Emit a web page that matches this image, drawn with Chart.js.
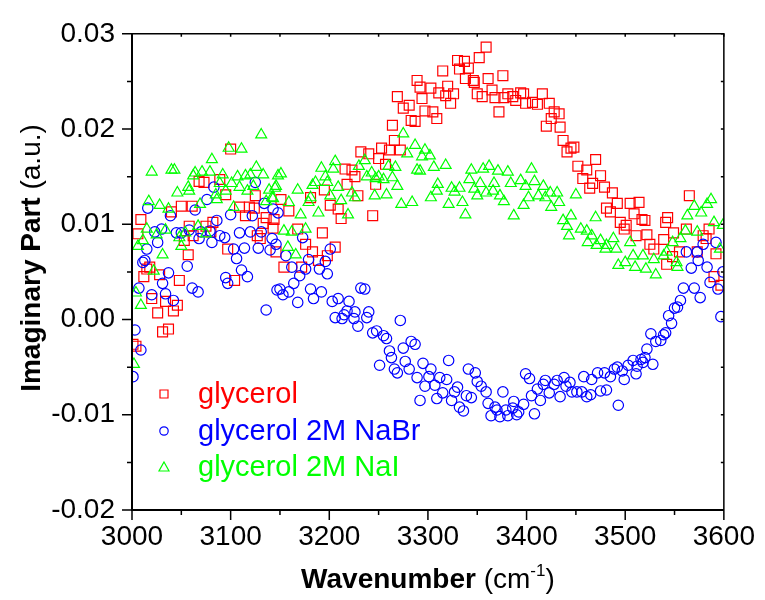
<!DOCTYPE html>
<html lang="en">
  <head>
    <meta charset="UTF-8" />
    <script src="https://cdn.jsdelivr.net/npm/chart.js"></script>
    <style>
      body {
        margin: 0;
        background: #ffffff;
      }
      #wrap {
        width: 765px;
        height: 600px;
      }
    </style>
  </head>
  <body>
    <div id="wrap">
      <canvas id="imagChart" width="765" height="600"></canvas>
    </div>

    <script>
      // glycerol (red squares)
      const glycerolWn = [
        3001, 3004, 3006, 3009, 3012, 3015, 3018, 3020, 3026, 3028, 3031, 3034, 3037, 3040, 3042,
        3046, 3048, 3050, 3053, 3057, 3058, 3061, 3062, 3068, 3073, 3075, 3080, 3082, 3089, 3095,
        3097, 3100, 3104, 3109, 3115, 3119, 3124, 3125, 3127, 3130, 3133, 3136, 3143, 3144, 3146,
        3151, 3154, 3159, 3168, 3172, 3176, 3181, 3183, 3189, 3193, 3195, 3198, 3201, 3206, 3209,
        3212, 3216, 3218, 3223, 3226, 3229, 3232, 3240, 3244, 3247, 3250, 3253, 3257, 3261, 3264,
        3266, 3269, 3272, 3275, 3281, 3283, 3287, 3289, 3292, 3294, 3297, 3303, 3305, 3309, 3311,
        3315, 3318, 3320, 3323, 3326, 3330, 3332, 3337, 3338, 3341, 3346, 3347, 3350, 3352, 3355,
        3359, 3361, 3365, 3368, 3372, 3376, 3377, 3381, 3386, 3389, 3394, 3397, 3399, 3406, 3411,
        3416, 3420, 3423, 3425, 3428, 3433, 3434, 3437, 3441, 3445, 3448, 3452, 3457, 3461, 3464,
        3467, 3470, 3475, 3479, 3481, 3485, 3487, 3492, 3495, 3499, 3501, 3505, 3509, 3511, 3514,
        3517, 3520, 3522, 3525, 3529, 3539, 3541, 3542, 3543, 3548, 3549, 3555, 3562, 3565, 3573,
        3579, 3582, 3585, 3590, 3592, 3597
      ];
      const glycerolIm = [
        -0.0026, -0.0028, 0.0090, 0.0105, 0.0045, 0.0053, 0.0055, 0.0022, 0.0007, 0.0047, -0.0013, 0.0019, -0.0010, 0.0113, 0.0009,
        0.0015, 0.0041, 0.0119, 0.0083, 0.0068, 0.0098, 0.0119, 0.0088, 0.0145, 0.0144, 0.0098, 0.0092, 0.0102, 0.0147, 0.0131,
        0.0074, 0.0179, 0.0041, 0.0118, 0.0109, 0.0118, 0.0117, 0.0130, 0.0088, 0.0085, 0.0101, 0.0107, 0.0096, 0.0105, 0.0071,
        0.0126, 0.0055, 0.0114, 0.0095, 0.0055, 0.0079, 0.0128, 0.0071, 0.0062, 0.0091, 0.0136, 0.0067, 0.0120, 0.0076, 0.0116,
        0.0106, 0.0158, 0.0142, 0.0157, 0.0150, 0.0130, 0.0176, 0.0174, 0.0109, 0.0142, 0.0169, 0.0180, 0.0163, 0.0178, 0.0204,
        0.0188, 0.0234, 0.0178, 0.0222, 0.0225, 0.0209, 0.0208, 0.0251, 0.0244, 0.0232, 0.0219, 0.0243, 0.0218, 0.0211, 0.0238,
        0.0261, 0.0235, 0.0245, 0.0227, 0.0237, 0.0272, 0.0263, 0.0271, 0.0253, 0.0264, 0.0251, 0.0249, 0.0237, 0.0275, 0.0234,
        0.0286, 0.0253, 0.0241, 0.0233, 0.0218, 0.0256, 0.0233, 0.0237, 0.0234, 0.0230, 0.0238, 0.0237, 0.0227, 0.0228, 0.0226,
        0.0237, 0.0203, 0.0227, 0.0211, 0.0218, 0.0216, 0.0202, 0.0188, 0.0176, 0.0180, 0.0181, 0.0161, 0.0148, 0.0157, 0.0138,
        0.0143, 0.0168, 0.0151, 0.0139, 0.0117, 0.0113, 0.0133, 0.0122, 0.0102, 0.0095, 0.0099, 0.0122, 0.0111, 0.0088, 0.0123,
        0.0105, 0.0104, 0.0089, 0.0079, 0.0074, 0.0084, 0.0102, 0.0058, 0.0107, 0.0066, 0.0091, 0.0071, 0.0095, 0.0130, 0.0071,
        0.0088, 0.0085, 0.0095, 0.0045, 0.0069, 0.0036
      ];

      // glycerol 2M NaBr (blue circles)
      const nabrWn = [
        3001, 3003, 3007, 3009, 3011, 3013, 3015, 3016, 3020, 3023, 3026, 3030, 3031, 3034, 3037,
        3039, 3042, 3045, 3050, 3056, 3058, 3061, 3064, 3067, 3068, 3070, 3076, 3079, 3081, 3083,
        3086, 3089, 3094, 3095, 3097, 3100, 3103, 3106, 3109, 3111, 3114, 3117, 3120, 3122, 3125,
        3128, 3131, 3134, 3136, 3140, 3142, 3143, 3146, 3147, 3148, 3150, 3153, 3156, 3159, 3162,
        3164, 3168, 3170, 3173, 3176, 3179, 3181, 3184, 3190, 3192, 3196, 3198, 3201, 3203, 3206,
        3209, 3213, 3215, 3218, 3220, 3225, 3226, 3229, 3232, 3236, 3238, 3240, 3244, 3248, 3251,
        3255, 3258, 3261, 3263, 3266, 3269, 3272, 3275, 3277, 3281, 3283, 3287, 3289, 3292, 3295,
        3297, 3301, 3303, 3307, 3309, 3312, 3315, 3319, 3321, 3324, 3327, 3330, 3332, 3336, 3339,
        3341, 3344, 3348, 3350, 3354, 3359, 3361, 3364, 3368, 3370, 3373, 3376, 3379, 3381, 3386,
        3387, 3390, 3392, 3397, 3399, 3403, 3405, 3408, 3411, 3414, 3417, 3419, 3423, 3428, 3431,
        3434, 3438, 3440, 3444, 3446, 3451, 3456, 3458, 3461, 3465, 3466, 3472, 3475, 3479, 3481,
        3485, 3489, 3492, 3493, 3497, 3499, 3503, 3508, 3511, 3512, 3516, 3518, 3520, 3522, 3526,
        3528, 3531, 3536, 3539, 3541, 3544, 3547, 3550, 3553, 3556, 3559, 3562, 3567, 3570, 3573,
        3574, 3576, 3579, 3583, 3586, 3592, 3594, 3597, 3599
      ];
      const nabrIm = [
        -0.0060, -0.0011, 0.0033, -0.0032, 0.0060, 0.0062, 0.0074, 0.0117, 0.0026, 0.0092, 0.0081, 0.0095, 0.0038, 0.0027, 0.0049,
        0.0109, 0.0020, 0.0091, 0.0091, 0.0056, 0.0094, 0.0033, 0.0115, 0.0029, 0.0085, 0.0092, 0.0126, 0.0093, 0.0081, 0.0139,
        0.0104, 0.0088, 0.0086, 0.0044, 0.0038, 0.0110, 0.0074, 0.0064, 0.0091, 0.0052, 0.0075, 0.0045, 0.0092, 0.0109, 0.0144,
        0.0075, 0.0092, 0.0122, 0.0010, 0.0073, 0.0085, 0.0116, 0.0079, 0.0031, 0.0112, 0.0032, 0.0026, 0.0067, 0.0029, 0.0055,
        0.0038, 0.0018, 0.0046, 0.0086, 0.0053, 0.0063, 0.0032, 0.0022, 0.0053, 0.0029, 0.0061, 0.0048, 0.0074, 0.0019, 0.0002,
        0.0022, 0.0001, 0.0005, 0.0009, 0.0019, 0.0001, 0.0008, -0.0007, 0.0033, 0.0032, 0.0002, 0.0008, -0.0014, -0.0012, -0.0048,
        -0.0017, -0.0020, -0.0033, -0.0040, -0.0052, -0.0056, -0.0001, -0.0030, -0.0044, -0.0052, -0.0023, -0.0026, -0.0061, -0.0085, -0.0046,
        -0.0070, -0.0060, -0.0052, -0.0069, -0.0083, -0.0061, -0.0077, -0.0063, -0.0043, -0.0085, -0.0076, -0.0071, -0.0092, -0.0096, -0.0080,
        -0.0052, -0.0082, -0.0056, -0.0065, -0.0070, -0.0076, -0.0088, -0.0101, -0.0092, -0.0095, -0.0102, -0.0076, -0.0095, -0.0101, -0.0093,
        -0.0086, -0.0100, -0.0097, -0.0089, -0.0057, -0.0062, -0.0080, -0.0099, -0.0073, -0.0085, -0.0068, -0.0064, -0.0077, -0.0068, -0.0064,
        -0.0081, -0.0061, -0.0070, -0.0066, -0.0076, -0.0076, -0.0076, -0.0060, -0.0081, -0.0079, -0.0063, -0.0056, -0.0075, -0.0056, -0.0074,
        -0.0060, -0.0052, -0.0050, -0.0090, -0.0054, -0.0063, -0.0048, -0.0043, -0.0057, -0.0049, -0.0042, -0.0045, -0.0040, -0.0031, -0.0015,
        -0.0047, -0.0023, -0.0022, -0.0016, -0.0014, 0.0004, -0.0004, 0.0012, 0.0013, 0.0020, 0.0033, 0.0071, 0.0054, 0.0033, 0.0071,
        0.0062, 0.0023, 0.0079, 0.0055, 0.0039, 0.0081, 0.0032, 0.0003, 0.0050
      ];

      // glycerol 2M NaI (green triangles)
      const naiWn = [
        3002, 3004, 3006, 3009, 3011, 3015, 3017, 3020, 3022, 3025, 3028, 3031, 3034, 3037, 3040,
        3043, 3046, 3048, 3050, 3054, 3057, 3058, 3062, 3064, 3067, 3069, 3071, 3075, 3079, 3081,
        3085, 3086, 3089, 3092, 3095, 3098, 3101, 3103, 3107, 3109, 3111, 3115, 3117, 3120, 3123,
        3126, 3131, 3133, 3136, 3139, 3142, 3143, 3145, 3146, 3148, 3151, 3154, 3158, 3159, 3162,
        3166, 3168, 3171, 3176, 3179, 3181, 3183, 3186, 3189, 3192, 3196, 3198, 3201, 3204, 3206,
        3209, 3212, 3219, 3223, 3226, 3230, 3236, 3238, 3243, 3246, 3247, 3250, 3255, 3258, 3260,
        3264, 3267, 3269, 3273, 3275, 3279, 3284, 3287, 3289, 3292, 3294, 3297, 3302, 3303, 3306,
        3309, 3310, 3318, 3321, 3324, 3327, 3332, 3335, 3338, 3342, 3344, 3347, 3350, 3353, 3356,
        3359, 3362, 3366, 3367, 3371, 3373, 3377, 3381, 3384, 3387, 3394, 3397, 3399, 3402, 3405,
        3408, 3412, 3417, 3419, 3424, 3425, 3431, 3433, 3437, 3441, 3443, 3445, 3450, 3455, 3461,
        3462, 3466, 3470, 3471, 3475, 3480, 3481, 3488, 3491, 3493, 3500, 3505, 3508, 3510, 3518,
        3521, 3529, 3531, 3539, 3542, 3548, 3552, 3553, 3556, 3561, 3563, 3570, 3573, 3577, 3583,
        3587, 3590, 3596, 3599
      ];
      const naiIm = [
        -0.0047, 0.0028, 0.0077, 0.0015, 0.0083, 0.0095, 0.0124, 0.0155, 0.0051, 0.0089, 0.0120, 0.0068, 0.0094, 0.0116, 0.0157,
        0.0157, 0.0133, 0.0086, 0.0077, 0.0091, 0.0139, 0.0135, 0.0151, 0.0154, 0.0098, 0.0121, 0.0155, 0.0090, 0.0155, 0.0168,
        0.0131, 0.0126, 0.0143, 0.0152, 0.0135, 0.0180, 0.0143, 0.0118, 0.0150, 0.0139, 0.0179, 0.0151, 0.0135, 0.0152, 0.0140,
        0.0160, 0.0194, 0.0152, 0.0124, 0.0136, 0.0128, 0.0127, 0.0138, 0.0140, 0.0151, 0.0153, 0.0093, 0.0076, 0.0123, 0.0092,
        0.0068, 0.0136, 0.0110, 0.0095, 0.0123, 0.0128, 0.0141, 0.0144, 0.0112, 0.0159, 0.0150, 0.0144, 0.0130, 0.0158, 0.0166,
        0.0139, 0.0125, 0.0110, 0.0133, 0.0128, 0.0161, 0.0167, 0.0150, 0.0154, 0.0130, 0.0148, 0.0150, 0.0147, 0.0131, 0.0161,
        0.0149, 0.0160, 0.0140, 0.0121, 0.0195, 0.0174, 0.0123, 0.0183, 0.0157, 0.0156, 0.0171, 0.0178, 0.0172, 0.0128, 0.0160,
        0.0135, 0.0142, 0.0162, 0.0121, 0.0138, 0.0134, 0.0138, 0.0123, 0.0110, 0.0147, 0.0157, 0.0137, 0.0130, 0.0143, 0.0158,
        0.0133, 0.0161, 0.0135, 0.0143, 0.0156, 0.0130, 0.0124, 0.0155, 0.0143, 0.0109, 0.0146, 0.0120, 0.0140, 0.0128, 0.0158,
        0.0145, 0.0130, 0.0140, 0.0128, 0.0133, 0.0118, 0.0133, 0.0123, 0.0104, 0.0098, 0.0088, 0.0109, 0.0131, 0.0095, 0.0093,
        0.0081, 0.0088, 0.0107, 0.0078, 0.0083, 0.0074, 0.0078, 0.0085, 0.0074, 0.0057, 0.0060, 0.0081, 0.0067, 0.0055, 0.0067,
        0.0053, 0.0063, 0.0047, 0.0067, 0.0071, 0.0081, 0.0060, 0.0055, 0.0085, 0.0093, 0.0109, 0.0119, 0.0092, 0.0112, 0.0121,
        0.0126, 0.0102, 0.0074, 0.0099
      ];

      const seriesNames = ["glycerol", "glycerol 2M NaBr", "glycerol 2M NaI"];
      const seriesColors = ["#ff0000", "#0000ff", "#00ff00"];
      const xTicks = [3000, 3100, 3200, 3300, 3400, 3500, 3600];
      const yTicks = [-0.02, -0.01, 0.0, 0.01, 0.02, 0.03];

      function toPoints(xs, ys) {
        return xs.map((x, i) => ({ x: x, y: ys[i] }));
      }

      // box, tick marks, axis titles and the legend
      const frame = {
        id: "frame",
        afterDraw(chart) {
          const ctx = chart.ctx;
          const a = chart.chartArea;
          const xs = chart.scales.x;
          const ys = chart.scales.y;
          ctx.save();
          ctx.strokeStyle = "#000";

          ctx.lineWidth = 1.5;
          ctx.beginPath();
          ctx.moveTo(a.left, a.top);
          ctx.lineTo(a.right, a.top);
          ctx.lineTo(a.right, a.bottom);
          ctx.stroke();
          ctx.lineWidth = 2;
          ctx.beginPath();
          ctx.moveTo(a.left, a.top);
          ctx.lineTo(a.left, a.bottom);
          ctx.lineTo(a.right, a.bottom);
          ctx.stroke();

          ctx.lineWidth = 1.5;
          for (let v = 3000; v <= 3600; v += 50) {
            const px = xs.getPixelForValue(v);
            const major = v % 100 === 0;
            ctx.beginPath();
            ctx.moveTo(px, a.bottom);
            ctx.lineTo(px, a.bottom + (major ? 10 : 5));
            ctx.moveTo(px, a.top);
            ctx.lineTo(px, a.top + 3);
            ctx.stroke();
          }
          for (let k = -4; k <= 6; k++) {
            const v = k * 0.005;
            const py = ys.getPixelForValue(v);
            const major = k % 2 === 0;
            ctx.beginPath();
            ctx.moveTo(a.left, py);
            ctx.lineTo(a.left - (major ? 10 : 5), py);
            ctx.moveTo(a.right, py);
            ctx.lineTo(a.right - 3, py);
            ctx.stroke();
          }

          // x title
          ctx.fillStyle = "#000";
          ctx.textBaseline = "alphabetic";
          const boldF = "bold 28px 'Liberation Sans', Arial, sans-serif";
          const normF = "28px 'Liberation Sans', Arial, sans-serif";
          const supF = "17px 'Liberation Sans', Arial, sans-serif";
          ctx.font = boldF;
          const w1 = ctx.measureText("Wavenumber").width;
          ctx.font = normF;
          const w2 = ctx.measureText(" (cm").width;
          ctx.font = supF;
          const w3 = ctx.measureText("-1").width;
          ctx.font = normF;
          const w4 = ctx.measureText(")").width;
          let tx = (a.left + a.right) / 2 - (w1 + w2 + w3 + w4) / 2;
          const ty = 588;
          ctx.font = boldF;
          ctx.fillText("Wavenumber", tx, ty);
          tx += w1;
          ctx.font = normF;
          ctx.fillText(" (cm", tx, ty);
          tx += w2;
          ctx.font = supF;
          ctx.fillText("-1", tx, ty - 12);
          tx += w3;
          ctx.font = normF;
          ctx.fillText(")", tx, ty);

          // y title
          ctx.save();
          ctx.translate(40, 258);
          ctx.rotate(-Math.PI / 2);
          ctx.font = boldF;
          const u1 = ctx.measureText("Imaginary Part").width;
          ctx.font = normF;
          const u2 = ctx.measureText(" (a.u.)").width;
          let ux = -(u1 + u2) / 2;
          ctx.font = boldF;
          ctx.fillText("Imaginary Part", ux, 0);
          ux += u1;
          ctx.font = normF;
          ctx.fillText(" (a.u.)", ux, 0);
          ctx.restore();

          // legend
          const rows = [394, 431, 467];
          ctx.lineWidth = 1.2;
          ctx.font = "29px 'Liberation Sans', Arial, sans-serif";
          ctx.textBaseline = "middle";
          rows.forEach((ry, i) => {
            const mx = 164;
            ctx.strokeStyle = seriesColors[i];
            ctx.fillStyle = seriesColors[i];
            ctx.beginPath();
            if (i === 0) {
              ctx.rect(mx - 4, ry - 4, 8, 8);
            } else if (i === 1) {
              ctx.arc(mx, ry, 4.2, 0, Math.PI * 2);
            } else {
              ctx.moveTo(mx, ry - 5);
              ctx.lineTo(mx + 5, ry + 4);
              ctx.lineTo(mx - 5, ry + 4);
              ctx.closePath();
            }
            ctx.stroke();
            ctx.fillText(seriesNames[i], 198, ry + 1);
          });
          ctx.restore();
        },
      };

      const ctx = document.getElementById("imagChart").getContext("2d");
      const imagChart = new Chart(ctx, {
        type: "scatter",
        data: {
          datasets: [
            {
              label: seriesNames[0],
              data: toPoints(glycerolWn, glycerolIm),
              pointStyle: "rect",
              pointRadius: 7,
              borderColor: seriesColors[0],
              backgroundColor: "rgba(0,0,0,0)",
              borderWidth: 1.2,
              order: 3,
            },
            {
              label: seriesNames[1],
              data: toPoints(nabrWn, nabrIm),
              pointStyle: "circle",
              pointRadius: 5.2,
              borderColor: seriesColors[1],
              backgroundColor: "rgba(0,0,0,0)",
              borderWidth: 1.2,
              order: 2,
            },
            {
              label: seriesNames[2],
              data: toPoints(naiWn, naiIm),
              pointStyle: "triangle",
              pointRadius: 6.3,
              borderColor: seriesColors[2],
              backgroundColor: "rgba(0,0,0,0)",
              borderWidth: 1.2,
              order: 1,
            },
          ],
        },
        options: {
          responsive: false,
          animation: false,
          devicePixelRatio: 1,
          layout: { padding: { top: 29, right: 37, left: 0, bottom: 0 } },
          plugins: {
            legend: { display: false },
            tooltip: { enabled: false },
          },
          scales: {
            x: {
              type: "linear",
              min: 3000,
              max: 3600,
              afterFit: (s) => {
                s.height = 90;
              },
              afterBuildTicks: (s) => {
                s.ticks = xTicks.map((v) => ({ value: v }));
              },
              grid: { display: false, drawTicks: false },
              border: { display: false },
              ticks: {
                padding: 10,
                color: "#000",
                font: { family: "'Liberation Sans', Arial, sans-serif", size: 28 },
                callback: (v) => String(v),
              },
            },
            y: {
              type: "linear",
              min: -0.02,
              max: 0.03,
              afterFit: (s) => {
                s.width = 132;
              },
              afterBuildTicks: (s) => {
                s.ticks = yTicks.map((v) => ({ value: v }));
              },
              grid: { display: false, drawTicks: false },
              border: { display: false },
              ticks: {
                padding: 17,
                color: "#000",
                font: { family: "'Liberation Sans', Arial, sans-serif", size: 28 },
                callback: (v) => (Math.abs(v) < 1e-9 ? "0.00" : v.toFixed(2)),
              },
            },
          },
        },
        plugins: [frame],
      });
    </script>
  </body>
</html>
